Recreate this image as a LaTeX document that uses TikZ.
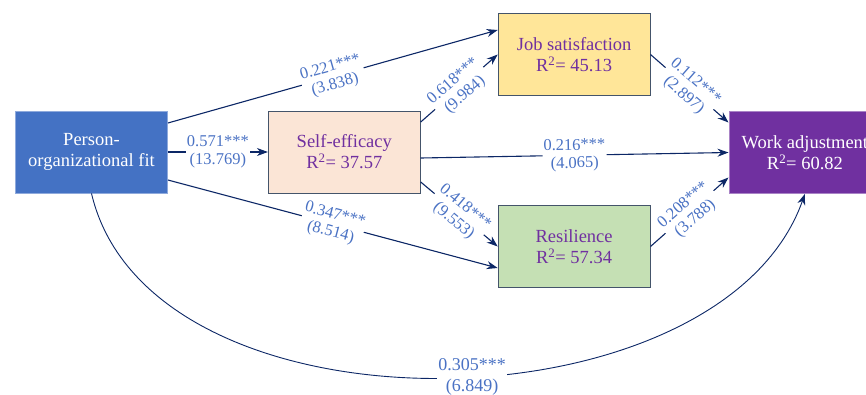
\documentclass[tikz,border=0pt]{standalone}
\usepackage{fontspec}
\setmainfont{Liberation Serif}
\usetikzlibrary{arrows.meta,positioning,calc}
\definecolor{pathnavy}{HTML}{0C2766}
\definecolor{coefblue}{HTML}{4A72C4}
\definecolor{boxpurple}{HTML}{7030A0}
\definecolor{pofblue}{HTML}{4472C4}
\definecolor{selfpeach}{HTML}{FBE5D6}
\definecolor{jobyellow}{HTML}{FFE699}
\definecolor{resgreen}{HTML}{C5E0B4}
\definecolor{edgegray}{HTML}{44546A}

\begin{document}
\begin{tikzpicture}[x=1pt, y=1pt, >={Stealth[length=11pt,width=8pt]},
    box/.style={draw=edgegray, line width=0.8pt, minimum width=152pt, minimum height=82pt,
                align=center, inner sep=0pt, text=boxpurple, font=\fontsize{18.5}{21}\selectfont},
    coef/.style={fill=white, text=coefblue, align=center, inner sep=1pt, sloped,
                 font=\fontsize{16.5}{18}\selectfont},
    path/.style={draw=pathnavy, line width=1.1pt}]
            \useasboundingbox (0,0) rectangle (866,-394);

            \node[box, fill=pofblue, draw=pofblue!60!white, text=white] (pof) at (91.5,-152) {Person-\\organizational fit};
            \node[box, fill=selfpeach, right=100pt of pof] (self) {Self-efficacy\\R\textsuperscript{2}= 37.57};
            \node[box, fill=jobyellow, right=77pt of self, yshift=97.5pt] (job) {Job satisfaction\\R\textsuperscript{2}= 45.13};
            \node[box, fill=resgreen, right=77pt of self, yshift=-94.5pt] (res) {Resilience\\R\textsuperscript{2}= 57.34};
            \node[box, fill=boxpurple, draw=boxpurple!60!white, text=white, right=78pt of job, yshift=-98pt] (wa) {Work adjustment\\R\textsuperscript{2}= 60.82};

            \draw[->, path] ([yshift=29pt]pof.east) -- node[coef] {0.221***\\(3.838)} ([yshift=24.5pt]job.west);
            \draw[->, path] (pof) -- node[coef] {0.571***\\(13.769)} (self);
            \draw[->, path] ([yshift=-28pt]pof.east) -- node[coef] {0.347***\\(8.514)} ([yshift=-21.5pt]res.west);
            \draw[->, path] ([yshift=30pt]self.east) -- node[coef] {0.618***\\(9.984)} (job.west);
            \draw[->, path] ([yshift=-6pt]self.east) -- node[coef] {0.216***\\(4.065)} (wa.west);
            \draw[->, path] ([yshift=-30pt]self.east) -- node[coef] {0.418***\\(9.553)} (res.west);
            \draw[->, path] (job.east) -- node[coef] {0.112***\\(2.897)} ([yshift=30pt]wa.west);
            \draw[->, path] (res.east) -- node[coef] {0.208***\\(3.788)} ([yshift=-25pt]wa.west);
            \draw[->, path, line width=0.9pt] (pof.south) .. controls (150,-444) and (720,-434) .. node[coef, sloped=false, pos=0.535, font=\fontsize{18}{21}\selectfont] {0.305***\\(6.849)} (wa.south);
        \end{tikzpicture}
\end{document}
